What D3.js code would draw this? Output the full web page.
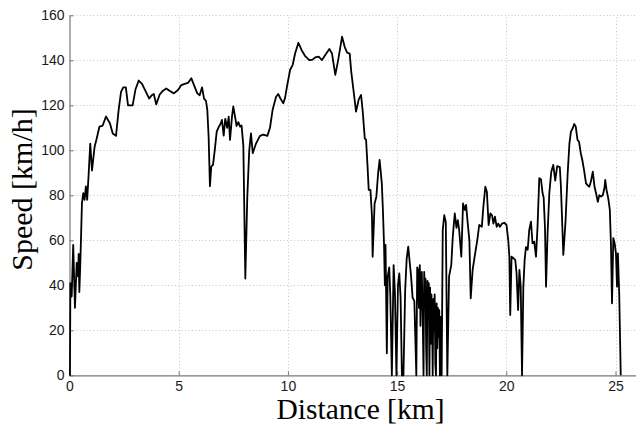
<!DOCTYPE html>
<html><head><meta charset="utf-8">
<script src="https://cdn.jsdelivr.net/npm/d3@7"></script>
<style>
html,body{margin:0;padding:0;background:#fff;}
svg{display:block;}
</style></head>
<body>
<svg id="chart" width="636" height="424"></svg>
<script>
const distanceKm = [0.00,0.02,0.04,0.10,0.17,0.25,0.33,0.39,0.42,0.45,0.49,0.57,0.63,0.69,0.75,0.81,0.88,0.95,1.03,1.15,1.24,1.37,1.52,1.67,1.85,1.98,2.13,2.25,2.36,2.46,2.58,2.68,2.89,3.02,3.17,3.32,3.50,3.65,3.77,3.86,3.97,4.13,4.28,4.43,4.58,4.78,4.97,5.12,5.27,5.43,5.58,5.70,5.85,5.96,6.07,6.16,6.25,6.31,6.37,6.43,6.49,6.57,6.65,6.74,6.84,6.93,6.98,7.06,7.13,7.22,7.29,7.35,7.44,7.50,7.58,7.65,7.73,7.81,7.88,7.96,8.05,8.14,8.23,8.31,8.39,8.54,8.72,8.87,9.06,9.18,9.30,9.46,9.56,9.67,9.79,9.87,9.97,10.10,10.22,10.33,10.48,10.63,10.78,10.98,11.13,11.25,11.41,11.56,11.71,11.90,12.02,12.17,12.30,12.48,12.60,12.71,12.83,12.90,13.00,13.12,13.24,13.35,13.42,13.52,13.58,13.64,13.70,13.78,13.85,13.88,13.97,14.05,14.13,14.20,14.30,14.35,14.40,14.44,14.47,14.53,14.57,14.64,14.69,14.76,14.84,14.90,14.97,15.04,15.10,15.16,15.22,15.29,15.37,15.44,15.51,15.57,15.64,15.71,15.79,15.88,15.92,15.96,16.00,16.04,16.07,16.10,16.13,16.17,16.21,16.24,16.27,16.30,16.33,16.36,16.39,16.42,16.45,16.48,16.51,16.54,16.57,16.60,16.63,16.66,16.69,16.72,16.75,16.78,16.81,16.84,16.87,16.90,16.93,16.96,16.99,17.01,17.04,17.09,17.16,17.23,17.30,17.38,17.48,17.55,17.64,17.72,17.78,17.84,17.94,18.02,18.10,18.16,18.22,18.31,18.37,18.46,18.55,18.67,18.76,18.88,18.95,19.04,19.11,19.19,19.27,19.35,19.41,19.48,19.56,19.63,19.71,19.80,19.91,20.01,20.09,20.14,20.18,20.24,20.33,20.41,20.47,20.54,20.60,20.66,20.72,20.78,20.84,20.90,20.98,21.05,21.13,21.20,21.28,21.36,21.43,21.51,21.59,21.66,21.71,21.77,21.82,21.89,21.97,22.06,22.15,22.24,22.33,22.45,22.50,22.55,22.61,22.71,22.81,22.89,22.96,23.04,23.11,23.18,23.26,23.33,23.41,23.48,23.56,23.65,23.72,23.80,23.87,23.96,24.04,24.11,24.19,24.26,24.34,24.42,24.49,24.53,24.59,24.67,24.74,24.79,24.84,24.90,24.96,25.02,25.07,25.11,25.17,25.24];
const speedKmh = [0,0,41,35,58,30,50,44,54,37,48,76.5,81,78,84,78,90,103,91,101.6,105,110.5,111,115,112,107.5,106.4,118,126,128,128,120,120,127,131,129.5,126,123,124.5,125,120.4,124.8,126.5,127.5,126.5,125.3,126.8,129,129.5,130,132,129,125.3,124.5,128,123,122,118,106,84,92.7,93.5,100,108.3,110.5,112,113.5,106.5,114,110,115,104.6,115,119.5,115,110.8,112.5,110.5,111,102,43,79,100,107.5,98.7,103,106.4,107,106.4,110,118,123.8,125,122.8,120.9,123.3,129,135.7,138,143,147.8,144.5,142,140.1,140.3,141.3,141.6,140.1,142.4,145,143,133.5,140,150.5,146,143.4,143,135,127,117.2,122.5,124.6,118,105.3,104.6,94.2,82.4,82.4,70.5,52.7,76.4,79.4,89.8,95.7,85.3,73.5,58.7,40,58,9.8,44,48,35,0,49,37,0,40,45.3,34.5,0,0,38,52,57.2,51,44,34.5,33,0,48,47,30,49,22,40,46,28,0,46,35,43,12,0,42,25,41,0,39,14,36,28,0,34,20,36,5,0,32,12,30,17,29,0,26,10,0,64.6,71.2,68,0,44,49,61.6,72,65.5,69,64.8,52.7,76.4,73.5,75.7,69,60,34.2,47,52.7,60,66.8,66,75,83.8,81.6,66.8,72,71,67.4,70.5,66,67.4,66,67.4,67.8,66.8,60,52.7,26.8,52.7,52,51.3,45.3,29,46.8,39.4,0,39.4,51.3,57,55.8,64.6,68.3,58.7,59.4,52.7,66,87.6,87,81,79,66,39.4,63,81,90.5,93.5,86.5,93,92.5,84,70.5,53.5,68,89.8,103,108.3,109.8,111.7,110.5,104.6,103.8,98.7,95.7,91.2,85.3,84.5,83.8,86,90.5,83.8,80.9,77.1,80.1,79.4,80.1,83,86.8,82.4,78.6,73.5,58.7,32,61,58.7,54.2,39.4,54.2,36.4,0];
const xTicks = [0,5,10,15,20,25];
const yTicks = [0,20,40,60,80,100,120,140,160];
const xLabel = "Distance [km]";
const yLabel = "Speed [km/h]";

const svg = d3.select("#chart");
const plotLeft = 69.5, plotTop = 15.3, plotBottom = 375.3;
const x = d3.scaleLinear().domain([0, 26]).range([plotLeft, plotLeft + 26 * 21.84]);
const y = d3.scaleLinear().domain([0, 160]).range([plotBottom, plotTop]);
const plotRight = x(26);

// grid
const grid = svg.append("g").attr("stroke", "#c4c4c4").attr("stroke-width", 1).attr("stroke-dasharray", "1,2.4");
grid.selectAll("line.gx").data(xTicks.filter(d => d > 0)).enter().append("line")
  .attr("x1", d => Math.round(x(d)) + 0.5).attr("x2", d => Math.round(x(d)) + 0.5)
  .attr("y1", plotBottom).attr("y2", plotTop);
grid.selectAll("line.gy").data(yTicks.filter(d => d > 0)).enter().append("line")
  .attr("x1", plotLeft).attr("x2", plotRight)
  .attr("y1", d => Math.round(y(d)) + 0.5).attr("y2", d => Math.round(y(d)) + 0.5);

// axes
const xAxis = d3.axisBottom(x).tickValues(xTicks).tickSizeInner(-4).tickSizeOuter(0).tickPadding(7).tickFormat(d3.format("d"));
const yAxis = d3.axisLeft(y).tickValues(yTicks).tickSizeInner(-4).tickSizeOuter(0).tickPadding(7).tickFormat(d3.format("d"));
const gx = svg.append("g").attr("transform", `translate(0,${plotBottom})`).call(xAxis);
const gy = svg.append("g").attr("transform", `translate(${plotLeft},0)`).call(yAxis);
[gx, gy].forEach(g => {
  g.select(".domain").attr("stroke", "#777").attr("stroke-width", 1.2);
  g.selectAll(".tick line").attr("stroke", "#777").attr("stroke-width", 1);
  g.selectAll(".tick text").attr("fill", "#1a1a1a")
    .style("font-family", "'Liberation Sans', Arial, Helvetica, sans-serif").style("font-size", "14px");
});
gx.selectAll(".tick text").attr("dy", "0.71em").attr("y", 6);
gy.selectAll(".tick text").attr("x", -5);

// line
const line = d3.line().x((d, i) => x(distanceKm[i])).y((d, i) => y(speedKmh[i]));
svg.append("path").datum(speedKmh).attr("d", line)
  .attr("fill", "none").attr("stroke", "#000").attr("stroke-width", 1.8).attr("stroke-linejoin", "round");

// axis titles
svg.append("text").attr("x", 360.5).attr("y", 419).attr("text-anchor", "middle")
  .style("font-family", "'Liberation Serif', 'Times New Roman', serif").style("font-size", "29.5px").attr("fill", "#000")
  .text(xLabel);
svg.append("text").attr("transform", "translate(31.5,189.5) rotate(-90)").attr("text-anchor", "middle")
  .style("font-family", "'Liberation Serif', 'Times New Roman', serif").style("font-size", "30px").attr("fill", "#000")
  .text(yLabel);
</script>
</body></html>
